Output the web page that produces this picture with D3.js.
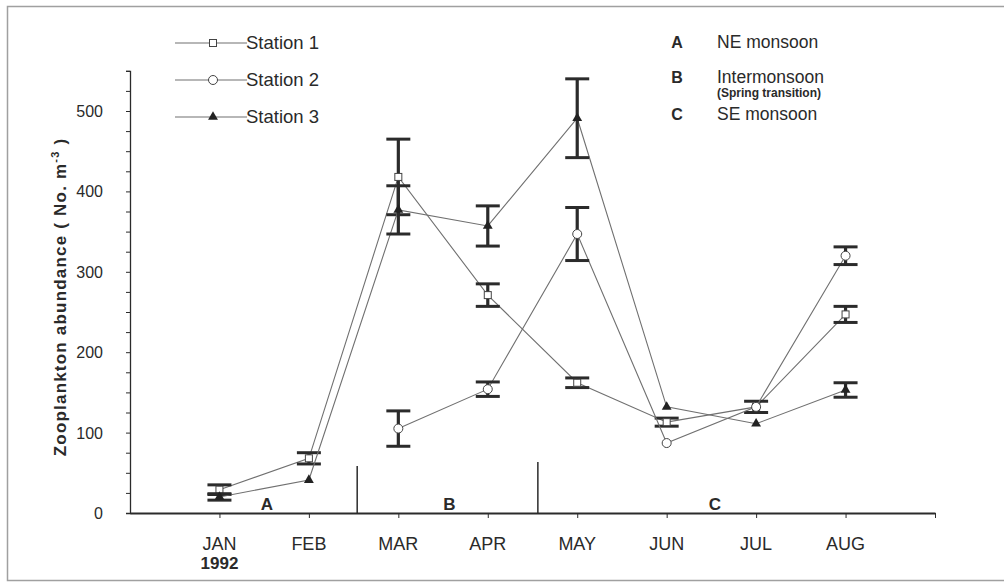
<!DOCTYPE html>
<html><head><meta charset="utf-8">
<script src="https://cdn.jsdelivr.net/npm/d3@7/dist/d3.min.js"></script>
<style>body{margin:0;background:#fff}svg{display:block}text{font-family:Arial,"Liberation Sans",sans-serif;fill:#2a2a2a}</style>
</head><body><svg id="c" width="1004" height="586"></svg>
<script>
const months = ["JAN","FEB","MAR","APR","MAY","JUN","JUL","AUG"];
const monthPos = [1,2,3,4,5,6,7,8];
const station1 = [29, 68, 418, 271, 162, 113, 132, 247];
const station1Err = [6, 7, 47, 14, 6, 5, 7, 10];
const station2 = [null, null, 105, 154, 347, 87, 132, 320];
const station2Err = [null, null, 22, 9, 33, 0, 0, 11];
const station3 = [20, 41, 377, 357, 491, 132, 111, 153];
const station3Err = [4, 0, 30, 25, 49, 0, 0, 9];
const yTicks = [0,100,200,300,400,500];
const phaseBounds = [2.54, 4.56];
const phaseLabels = [{t:"A", x:1.53},{t:"B", x:3.57},{t:"C", x:6.54}];
const legendSeries = ["Station 1","Station 2","Station 3"];
const periodKeys = ["A","B","C"];
const periodNames = ["NE monsoon","Intermonsoon","SE monsoon"];

const svg = d3.select("#c");
const x = d3.scaleLinear().domain([0,9]).range([130,935]);
const y = d3.scaleLinear().domain([0,550]).range([513,70.8]);
const ink = "#2b2b2b", line = "#707070";

// frame
svg.append("rect").attr("x",7.5).attr("y",6.5).attr("width",1010).attr("height",574)
  .attr("fill","none").attr("stroke","#a0a0a0").attr("stroke-width",1.5);

// y axis
const yAx = svg.append("g").attr("transform","translate(130,0)")
  .call(d3.axisLeft(y).tickValues(d3.range(0,551,25)).tickSize(4).tickFormat(""));
yAx.select(".domain").attr("stroke",ink).attr("stroke-width",1.3);
yAx.selectAll(".tick line").attr("stroke",ink);
svg.append("g").selectAll("text").data(yTicks).join("text")
  .attr("x",103).attr("y",d=>y(d)+6).attr("text-anchor","end")
  .style("font-size","16px").text(d=>d);

// x axis
const xAx = svg.append("g").attr("transform","translate(0,513)")
  .call(d3.axisBottom(x).tickValues(monthPos.concat([9])).tickSize(5).tickFormat("").tickSizeOuter(0));
xAx.select(".domain").attr("stroke",ink).attr("stroke-width",2);
xAx.selectAll(".tick line").attr("stroke",ink);
svg.append("g").selectAll("text").data(months).join("text")
  .attr("x",(d,i)=>x(monthPos[i])).attr("y",550).attr("text-anchor","middle")
  .style("font-size","18px").text(d=>d);
svg.append("text").attr("x",x(1)).attr("y",569).attr("text-anchor","middle")
  .style("font-size","17px").style("font-weight","bold").text("1992");

// y title
svg.append("text").attr("transform","translate(66,297) rotate(-90)").attr("text-anchor","middle")
  .style("font-size","17px").style("font-weight","bold").style("letter-spacing","1.2px")
  .html('Zooplankton abundance  ( No. m<tspan dy="-7" font-size="11">-3</tspan><tspan dy="7"> )</tspan>');

// phase dividers
svg.append("g").selectAll("line").data(phaseBounds).join("line")
  .attr("x1",d=>x(d)).attr("x2",d=>x(d))
  .attr("y1",(d,i)=>i===0?466:462).attr("y2",513)
  .attr("stroke",ink).attr("stroke-width",1.5);
svg.append("g").selectAll("text").data(phaseLabels).join("text")
  .attr("x",d=>x(d.x)).attr("y",510).attr("text-anchor","middle")
  .style("font-size","17px").style("font-weight","bold").text(d=>d.t);

// series
const series = [
  {v:station1, e:station1Err, m:"square"},
  {v:station2, e:station2Err, m:"circle"},
  {v:station3, e:station3Err, m:"triangle"}
];
const lineGen = d3.line().defined(d=>d.v!=null).x(d=>x(d.p)).y(d=>y(d.v));
series.forEach(s=>{
  const pts = s.v.map((v,i)=>({p:monthPos[i], v:v, e:s.e[i]}));
  svg.append("path").datum(pts).attr("d",lineGen).attr("fill","none")
    .attr("stroke",line).attr("stroke-width",1.1);
  const eb = pts.filter(d=>d.v!=null && d.e>0);
  const g = svg.append("g").attr("stroke",ink);
  g.selectAll(".v").data(eb).join("line").attr("x1",d=>x(d.p)).attr("x2",d=>x(d.p))
    .attr("y1",d=>y(d.v+d.e)).attr("y2",d=>y(d.v-d.e)).attr("stroke-width",3.2);
  g.selectAll(".t").data(eb).join("line").attr("x1",d=>x(d.p)-12).attr("x2",d=>x(d.p)+12)
    .attr("y1",d=>y(d.v+d.e)).attr("y2",d=>y(d.v+d.e)).attr("stroke-width",3);
  g.selectAll(".b").data(eb).join("line").attr("x1",d=>x(d.p)-12).attr("x2",d=>x(d.p)+12)
    .attr("y1",d=>y(d.v-d.e)).attr("y2",d=>y(d.v-d.e)).attr("stroke-width",3);
  const mp = pts.filter(d=>d.v!=null);
  drawMarkers(svg, mp.map(d=>[x(d.p), y(d.v)]), s.m);
});

function drawMarkers(g, xy, m){
  if(m==="square"){
    g.append("g").selectAll("rect").data(xy).join("rect")
      .attr("x",d=>d[0]-3.5).attr("y",d=>d[1]-3.5).attr("width",7).attr("height",7)
      .attr("fill","#fff").attr("stroke","#444").attr("stroke-width",1);
  } else if(m==="circle"){
    g.append("g").selectAll("circle").data(xy).join("circle")
      .attr("cx",d=>d[0]).attr("cy",d=>d[1]).attr("r",4.5)
      .attr("fill","#fff").attr("stroke","#444").attr("stroke-width",1);
  } else {
    g.append("g").selectAll("path").data(xy).join("path")
      .attr("d",d3.symbol(d3.symbolTriangle,42)).attr("transform",d=>`translate(${d[0]},${d[1]})`)
      .attr("fill","#222");
  }
}

// legend left
const lg = svg.append("g");
legendSeries.forEach((name,i)=>{
  const yy = 43 + i*37;
  lg.append("line").attr("x1",175).attr("x2",247).attr("y1",yy).attr("y2",yy)
    .attr("stroke",line).attr("stroke-width",1.1);
  drawMarkers(lg, [[213,yy]], series[i].m);
  lg.append("text").attr("x",246).attr("y",yy+6).style("font-size","18.5px").text(name);
});

// legend right
const rg = svg.append("g");
const rY = [42, 77, 114];
periodKeys.forEach((k,i)=>{
  rg.append("text").attr("x",677).attr("y",rY[i]+6).attr("text-anchor","middle")
    .style("font-size","16px").style("font-weight","bold").text(k);
  rg.append("text").attr("x",717).attr("y",rY[i]+6).style("font-size","17.5px").text(periodNames[i]);
});
rg.append("text").attr("x",717).attr("y",97).style("font-size","12px").style("font-weight","bold")
  .text("(Spring transition)");
</script></body></html>
